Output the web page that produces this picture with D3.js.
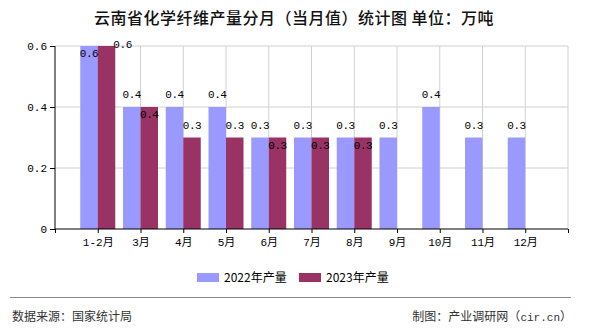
<!DOCTYPE html>
<html><head><meta charset="utf-8">
<script src="https://cdn.jsdelivr.net/npm/d3@7"></script>
<style>
html,body{margin:0;padding:0;background:#fff;}
svg{display:block;}
</style></head>
<body>
<script>
const categories = ["1-2月","3月","4月","5月","6月","7月","8月","9月","10月","11月","12月"];
const values2022 = [0.6,0.4,0.4,0.4,0.3,0.3,0.3,0.3,0.4,0.3,0.3];
const values2023 = [0.6,0.4,0.3,0.3,0.3,0.3,0.3];
const yTicks = [0,0.2,0.4,0.6];
const seriesNames = ["2022年产量","2023年产量"];
const labelMode2022 = ["inside","above","above","above","above","above","above","above","above","above","above"];
const labelMode2023 = ["right","inside","above","above","inside","inside","inside"];

const W=590,H=330;
const pL=55,pR=568,pT=46,pB=229;
const colors=["#9999ff","#993366"];
const mono='"Liberation Mono","Noto Sans CJK SC",monospace';
const sans='"Noto Sans CJK SC","Noto Sans",sans-serif';

const svg=d3.select("body").append("svg").attr("width",W).attr("height",H);

// x: 12 slots, categories placed at slot boundaries 1..11
const x=d3.scaleLinear().domain([0,categories.length+1]).range([pL,pR]);
const y=d3.scaleLinear().domain([0,0.6]).range([pB,pT]);
const bw=17.5;

// title
svg.append("text").attr("x",294).attr("y",24).attr("text-anchor","middle")
 .attr("font-family",sans).attr("font-size",16).attr("font-weight",500).attr("letter-spacing",0.5)
 .attr("fill","#111").text("云南省化学纤维产量分月（当月值）统计图 单位：万吨");

// grid
const g=svg.append("g");
yTicks.filter(d=>d>0).forEach(t=>{
  g.append("line").attr("x1",pL).attr("x2",pR).attr("y1",y(t)).attr("y2",y(t)).attr("stroke","#d0d0d0");
});
d3.range(1,categories.length+2).forEach(k=>{
  g.append("line").attr("x1",x(k)).attr("x2",x(k)).attr("y1",pT).attr("y2",pB).attr("stroke","#d0d0d0");
});

// bars
const series=[values2022,values2023];
series.forEach((vals,s)=>{
  svg.append("g").selectAll("rect").data(vals).join("rect")
   .attr("x",(d,i)=>x(i+1)+(s===0?-bw:0))
   .attr("width",bw)
   .attr("y",d=>y(d))
   .attr("height",d=>pB-y(d))
   .attr("fill",colors[s]);
});

// axes
const yAxis=d3.axisLeft(y).tickValues(yTicks).tickSize(5).tickFormat(d=>d===0?"0":d3.format(".1f")(d));
const ya=svg.append("g").attr("transform",`translate(${pL},0)`).call(yAxis);
ya.selectAll("text").attr("font-family",mono).attr("font-size",11).attr("fill","#000").attr("x",-8);
ya.select(".domain").attr("d",`M0,${pT}V${pB}`).attr("stroke","#000");
ya.selectAll(".tick line").attr("stroke","#000");

const xAxis=d3.axisBottom(x).tickValues(d3.range(0,categories.length+2)).tickSize(4)
  .tickFormat(k=>(k>=1&&k<=categories.length)?categories[k-1]:"");
const xa=svg.append("g").attr("transform",`translate(0,${pB})`).call(xAxis);
xa.select(".domain").attr("d",`M${pL},0H${pR}`).attr("stroke","#000");
xa.selectAll(".tick line").attr("stroke","#000");
xa.selectAll("text").attr("font-family",mono).attr("font-size",11).attr("fill","#000").attr("y",9);

// labels
const fmt=d3.format(".1f");
function addLabels(vals,modes,s){
  svg.append("g").selectAll("text").data(vals).join("text")
   .attr("font-family",mono).attr("font-size",11).attr("fill","#000").attr("letter-spacing",-0.4)
   .attr("text-anchor",(d,i)=>modes[i]==="right"?"start":"middle")
   .attr("x",(d,i)=>{
     const cx=x(i+1)+(s===0?-bw/2:bw/2);
     return modes[i]==="right"?x(i+1)+bw-2:cx;
   })
   .attr("y",(d,i)=>{
     const m=modes[i];
     if(m==="inside") return y(d)+11;
     if(m==="right") return y(d)+2;
     return y(d)-9;
   })
   .text(d=>fmt(d));
}
addLabels(values2022,labelMode2022,0);
addLabels(values2023,labelMode2023,1);

// legend
const lg=svg.append("g");
[[197,224],[299,326]].forEach((p,i)=>{
  lg.append("rect").attr("x",p[0]).attr("y",273).attr("width",22).attr("height",9).attr("fill",colors[i]);
  lg.append("text").attr("x",p[1]).attr("y",282).attr("font-family",sans).attr("font-size",12)
    .attr("fill","#000").text(seriesNames[i]);
});

// footer
svg.append("line").attr("x1",10).attr("x2",571).attr("y1",297.5).attr("y2",297.5).attr("stroke","#888").attr("stroke-width",1);
svg.append("text").attr("x",12).attr("y",321).attr("font-family",sans).attr("font-size",12).attr("fill","#333").text("数据来源：国家统计局");
const ft=svg.append("text").attr("x",572).attr("y",321).attr("text-anchor","end").attr("font-family",sans).attr("font-size",12).attr("fill","#333");
ft.append("tspan").text("制图：产业调研网（");
ft.append("tspan").attr("font-family",mono).attr("font-size",11).text("cir.cn");
ft.append("tspan").text("）");
</script>
</body></html>
